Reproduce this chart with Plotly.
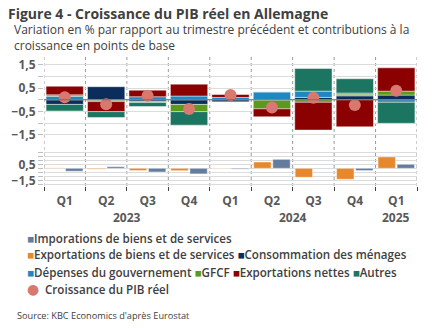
import plotly.graph_objects as go
import numpy as np

# ---------------- data ----------------
quarters = ["Q1", "Q2", "Q3", "Q4", "Q1", "Q2", "Q3", "Q4", "Q1"]
years = ["2023", "2023", "2023", "2023", "2024", "2024", "2024", "2024", "2025"]

consommation = [-0.20, 0.56, -0.07, -0.20, -0.09, -0.02, 0.10, 0.17, 0.20]
depenses = [0.15, -0.03, 0.13, 0.16, 0.10, 0.34, 0.27, 0.05, -0.11]
gfcf = [0.06, -0.05, -0.05, -0.31, 0.00, -0.37, -0.11, 0.07, 0.17]
exportations_nettes = [0.37, -0.43, 0.28, 0.51, 0.14, -0.34, -1.19, -1.16, 1.00]
autres = [-0.28, -0.25, -0.17, -0.58, 0.00, 0.00, 0.97, 0.61, -0.90]
pib = [0.11, -0.19, 0.17, -0.40, 0.20, -0.33, 0.09, -0.23, 0.39]

exportations = [0.05, -0.10, -0.28, -0.30, 0.03, 0.79, -1.12, -1.37, 1.42]
importations = [-0.37, 0.20, -0.46, -0.70, -0.10, 1.12, -0.06, -0.28, 0.50]

# ---------------- style ----------------
C_IMP = "#647d9e"
C_EXP = "#e6892c"
C_CONS = "#0b2d5b"
C_GOV = "#1f88c0"
C_GFCF = "#5a9a1c"
C_EXPN = "#8b0000"
C_AUT = "#1b7560"
C_PIB = "#d9786f"
TXT = "#404040"
TICK = "#595959"
GRID = "#dcdcdc"
FONT = "Open Sans"

x = np.arange(len(quarters))
edge = dict(color="rgba(255,255,255,0.45)", width=1)

fig = go.Figure()
top_series = [
    ("Consommation des ménages", consommation, C_CONS),
    ("Dépenses du gouvernement", depenses, C_GOV),
    ("GFCF", gfcf, C_GFCF),
    ("Exportations nettes", exportations_nettes, C_EXPN),
    ("Autres", autres, C_AUT),
]
for name, vals, col in top_series:
    fig.add_trace(go.Bar(x=x, y=vals, name=name, marker=dict(color=col, line=edge),
                         xaxis="x", yaxis="y", showlegend=False))

fig.add_trace(go.Scatter(x=x, y=pib, name="Croissance du PIB réel", mode="markers",
                         marker=dict(size=12, color=C_PIB), xaxis="x", yaxis="y",
                         showlegend=False))

fig.add_trace(go.Bar(x=x, y=exportations, name="Exportations de biens et de services",
                     marker=dict(color=C_EXP, line=edge), width=0.42, offset=-0.44,
                     xaxis="x", yaxis="y2", showlegend=False))
fig.add_trace(go.Bar(x=x, y=importations, name="Imporations de biens et de services",
                     marker=dict(color=C_IMP, line=edge), width=0.42, offset=0.02,
                     xaxis="x", yaxis="y3", showlegend=False))

# zero line of the top panel
fig.add_hline(y=0, yref="y", line=dict(color="#6e6e6e", width=1), layer="above")

# dotted vertical separators between quarters (through both panels)
bounds = np.arange(len(quarters) + 1) - 0.5
for b in bounds:
    fig.add_shape(type="line", xref="x", yref="paper", x0=b, x1=b, y0=0, y1=1,
                  line=dict(color="#9a9a9a", width=1, dash="dot"), layer="below")

W, H = 432, 334
L, R, T, B = 39, 15, 55, 148
pw, ph = W - L - R, H - T - B


def px(xp):
    return (xp - L) / pw


def py(yp):
    return (H - B - yp) / ph


tickfont = dict(family=FONT, size=12, color=TICK, weight="bold")

fig.update_layout(
    width=W, height=H,
    margin=dict(l=L, r=R, t=T, b=B),
    paper_bgcolor="white", plot_bgcolor="white",
    barmode="relative", bargap=0.1,
    separators=",.",
    font=dict(family=FONT, color=TXT),
    title=dict(text="<b>Figure 4 - Croissance du PIB réel en Allemagne</b>",
               x=8 / W, xanchor="left", y=1 - 14 / H, yanchor="middle",
               font=dict(family=FONT, size=14, color=TXT)),
    xaxis=dict(anchor="y2", range=[-0.5, len(quarters) - 0.5],
               tickmode="array", tickvals=x, ticktext=quarters, ticks="",
               showgrid=False, zeroline=False, showline=False,
               tickfont=tickfont, ticklabelstandoff=6,
               minor=dict(tickmode="array", tickvals=bounds, ticks="outside",
                          ticklen=4, tickcolor="#404040", showgrid=False)),
    yaxis=dict(domain=[0.338, 1.0], range=[-1.80, 1.92],
               tick0=0.5, dtick=1, tickformat=".1f",
               showgrid=True, gridcolor=GRID, zeroline=False, showline=False,
               ticks="outside", ticklen=5, tickcolor="#bfbfbf", tickfont=tickfont,
               minor=dict(tick0=0, dtick=0.5, showgrid=True, gridcolor=GRID,
                          ticks="outside", ticklen=5, tickcolor="#bfbfbf")),
    yaxis2=dict(domain=[0.0, 0.275], range=[-2.21, 2.29],
                tick0=0.5, dtick=2, tickformat=".1f",
                showgrid=True, gridcolor=GRID, zeroline=False, showline=False,
                ticks="outside", ticklen=5, tickcolor="#bfbfbf", tickfont=tickfont,
                minor=dict(tick0=0, dtick=0.5, showgrid=True, gridcolor=GRID,
                           ticks="outside", ticklen=5, tickcolor="#bfbfbf")),
    yaxis3=dict(overlaying="y2", matches="y2", visible=False, showgrid=False),
)

ann = []
# subtitle (two lines)
ann.append(dict(xref="paper", yref="paper", x=px(7), y=py(37.5), xanchor="left",
                yanchor="middle", align="left", showarrow=False,
                text="Variation en % par rapport au trimestre précédent et contributions à la"
                     "<br>croissance en points de base",
                font=dict(family=FONT, size=12, color=TXT)))
# year labels centred on their quarters
for yr in dict.fromkeys(years):
    idx = [i for i, v in enumerate(years) if v == yr]
    ann.append(dict(xref="x", yref="paper", x=float(np.mean(idx)), y=0, yshift=-31.7,
                    yanchor="middle", showarrow=False, text=yr, font=tickfont))

# legend rows
legend_rows = [
    [("Imporations de biens et de services", C_IMP)],
    [("Exportations de biens et de services", C_EXP),
     ("Consommation des ménages", C_CONS)],
    [("Dépenses du gouvernement", C_GOV), ("GFCF", C_GFCF),
     ("Exportations nettes", C_EXPN), ("Autres", C_AUT)],
]
row_y = [238.3, 254.3, 272.7]
legfont = dict(family=FONT, size=11.6, color=TXT, weight=600)
for row, yp in zip(legend_rows, row_y):
    parts = [f'<span style="color:{col}">■</span>{name}' for name, col in row]
    ann.append(dict(xref="paper", yref="paper", x=px(20), y=py(yp), xanchor="left",
                    yanchor="middle", align="left", showarrow=False,
                    text=" ".join(parts), font=legfont))
# dot legend entry
ann.append(dict(xref="paper", yref="paper", x=px(28), y=py(289.3), xanchor="center",
                yanchor="middle", showarrow=False, text="●",
                font=dict(family="DejaVu Sans", size=14, color=C_PIB)))
ann.append(dict(xref="paper", yref="paper", x=px(38), y=py(289.3), xanchor="left",
                yanchor="middle", showarrow=False, text="Croissance du PIB réel",
                font=legfont))

ann.append(dict(xref="paper", yref="paper", x=px(10), y=py(315), xanchor="left",
                yanchor="middle", showarrow=False,
                text="Source: KBC Economics d'après Eurostat",
                font=dict(family=FONT, size=9.2, color=TXT)))
fig.update_layout(annotations=ann)

fig.write_html("out.html")
